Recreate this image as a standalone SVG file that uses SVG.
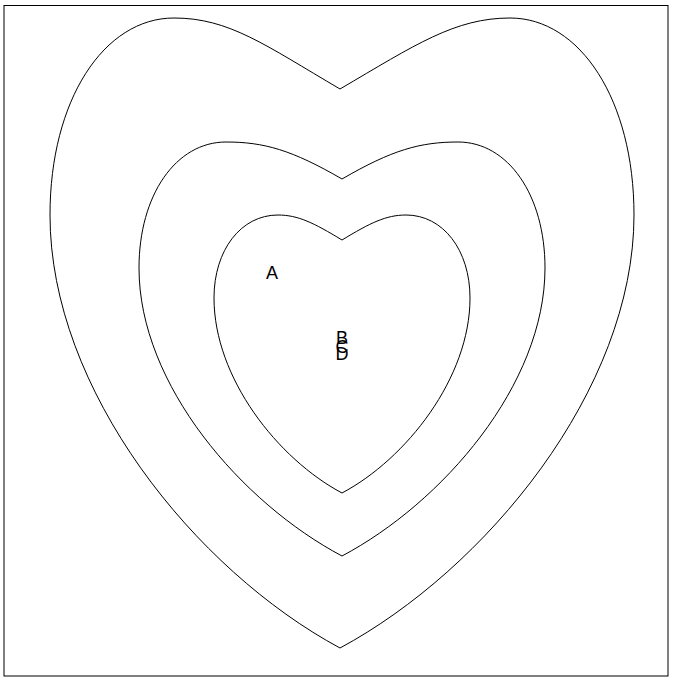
<svg xmlns="http://www.w3.org/2000/svg" width="673" height="679" viewBox="0 0 673 679">
<style>
.heart{fill:none;stroke:#000;stroke-width:1}
.lbl{font-family:"Liberation Sans",Arial,sans-serif;font-size:18px;fill:#000;text-anchor:middle}
</style>
<rect x="0" y="0" width="673" height="679" fill="#fff"/>
<rect x="4" y="5.5" width="664" height="670.5" fill="none" stroke="#000" stroke-width="1"/>
<g id="connectors"></g>
<g id="heart-outer">
<path class="heart" d="M340,89 C415,45 455,18 510,18 C580,18 634,100 634,215 C634,390 485,570 340,648 C195,570 50,390 50,215 C50,100 104,18 174,18 C229,18 265,45 340,89 Z"/>
</g>
<g id="heart-middle">
<path class="heart" d="M342,179 C392,150 420,142 458,142 C508,142 545,195 545,268 C545,385 442,503 342,556 C242,503 139,385 139,268 C139,195 176,142 226,142 C264,142 292,150 342,179 Z"/>
</g>
<g id="heart-inner">
<path class="heart" d="M342,240 C370,223 386,215 406,215 C443,215 470,250 470,298 C470,378 406,459 342,493 C278,459 214,378 214,298 C214,250 241,215 278,215 C298,215 314,223 342,240 Z"/>
</g>
<g id="label-A"><text class="lbl" x="272" y="279">A</text></g>
<g id="label-B"><text class="lbl" x="342" y="344">B</text></g>
<g id="label-C"><text class="lbl" x="342" y="353">C</text></g>
<g id="label-D"><text class="lbl" x="342" y="360">D</text></g>
</svg>
